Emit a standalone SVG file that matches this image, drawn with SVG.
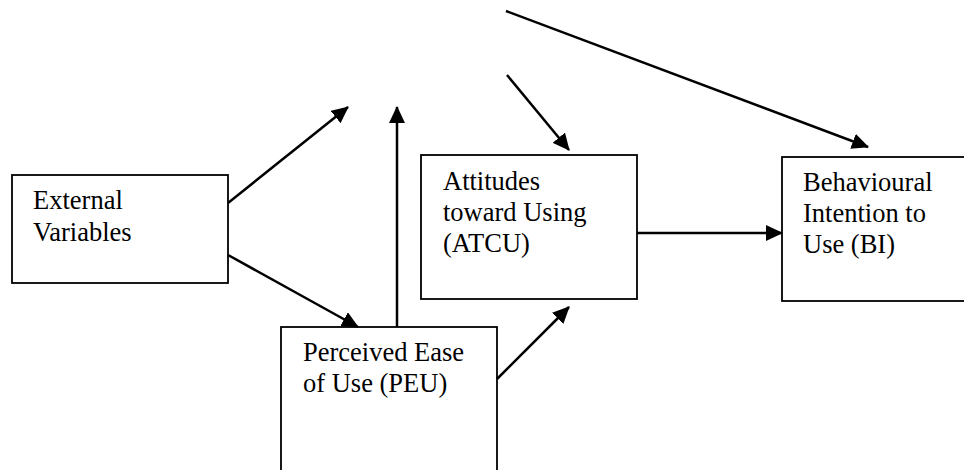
<svg xmlns="http://www.w3.org/2000/svg" width="964" height="470" viewBox="0 0 964 470">
<style>
.box{fill:#fff;stroke:#000;stroke-width:1.8}
.lbl{font-family:"Liberation Serif","Times New Roman",serif;font-size:26.5px;fill:#000}
.con{fill:none;stroke:#000;stroke-width:2.5}
</style>
<defs>
<marker id="ah" markerUnits="userSpaceOnUse" markerWidth="17" markerHeight="16" refX="16" refY="8" orient="auto" viewBox="0 0 17 16">
<path d="M0,0 L17,8 L0,16 z" fill="#000"/>
</marker>
</defs>
<rect width="964" height="470" fill="#fff"/>
<g id="ext">
<rect class="box" x="12" y="175" width="216" height="108"/>
<text class="lbl" x="33" y="209">External</text>
<text class="lbl" x="33" y="241">Variables</text>
</g>
<g id="peu">
<rect class="box" x="281" y="327" width="216" height="160"/>
<text class="lbl" x="303" y="361">Perceived Ease</text>
<text class="lbl" x="303" y="392">of Use (PEU)</text>
</g>
<g id="atcu">
<rect class="box" x="421" y="155" width="216" height="144"/>
<text class="lbl" x="443" y="190">Attitudes</text>
<text class="lbl" x="443" y="221">toward Using</text>
<text class="lbl" x="443" y="252">(ATCU)</text>
</g>
<g id="bi">
<rect class="box" x="782" y="157" width="200" height="144"/>
<text class="lbl" x="803" y="191">Behavioural</text>
<text class="lbl" x="803" y="222">Intention to</text>
<text class="lbl" x="803" y="253">Use (BI)</text>
</g>
<g id="connectors">
<path class="con" d="M228,203 L348,107" marker-end="url(#ah)"/>
<path class="con" d="M228,255 L358,327" marker-end="url(#ah)"/>
<path class="con" d="M397,327 L397,107" marker-end="url(#ah)"/>
<path class="con" d="M507,75 L569,150" marker-end="url(#ah)"/>
<path class="con" d="M506,11 L868,147" marker-end="url(#ah)"/>
<path class="con" d="M497,379 L569,307" marker-end="url(#ah)"/>
<path class="con" d="M637,233 L782,233" marker-end="url(#ah)"/>
</g>
</svg>
